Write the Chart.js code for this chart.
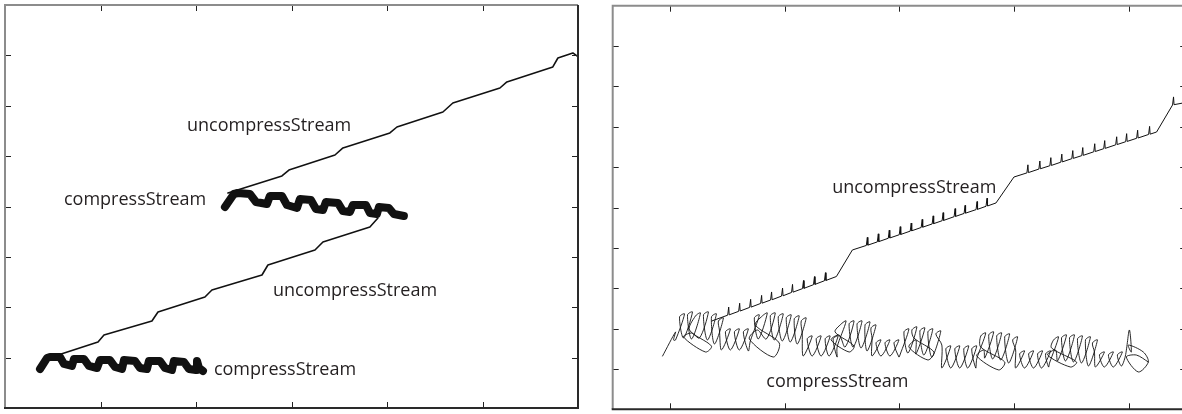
<!DOCTYPE html>
<html>
<head>
<meta charset="utf-8">
<script src="https://cdn.jsdelivr.net/npm/chart.js@4.4.1/dist/chart.umd.min.js"></script>
<style>
  html, body { margin: 0; padding: 0; background: #fff; overflow: hidden; }
  #wrap { position: relative; width: 1182px; height: 414px; overflow: hidden; }
  .panel { position: absolute; top: 0; }
  #left { left: 0; }
  #right { left: 600px; }
</style>
</head>
<body>
<div id="wrap">
  <canvas id="left" class="panel" width="590" height="414"></canvas>
  <canvas id="right" class="panel" width="600" height="414"></canvas>
</div>
<script>
// Left panel: two runs, each with a compress band and an uncompress staircase
const leftXTicks = [96, 192, 288, 384, 480];
const leftYTicks = [50, 100, 150, 200, 250, 300, 350];

const leftUncompUpper = [[224.1,213.4],[278.4,230.3],[285.4,236.2],[331.7,251.1],[339.7,258.1],[386.9,273.0],[394.0,278.9],[440.2,293.8],[450.2,302.7],[497.5,317.6],[504.5,323.6],[550.7,338.5],[555.8,347.4],[570.8,352.4],[574.9,349.4]];
const leftUncompLower = [[50.3,51.6],[93.5,65.5],[99.5,72.5],[147.7,86.4],[153.8,95.3],[201.0,110.2],[208.0,117.1],[258.3,132.0],[264.3,141.9],[311.6,156.8],[319.6,164.8],[366.8,179.7],[374.9,188.6]];
const leftCompUpper = [[221.1,199.5],[230.1,212.4],[234.2,213.4],[246.2,212.4],[252.3,204.5],[263.3,202.5],[266.3,210.4],[278.4,210.4],[283.4,201.5],[293.5,198.5],[296.5,207.5],[307.5,206.5],[312.6,197.5],[319.6,196.5],[322.6,204.5],[334.7,203.5],[339.7,195.5],[346.7,194.5],[349.7,201.5],[362.8,201.5],[366.8,193.6],[373.9,192.6],[375.9,199.5],[385.9,198.5],[390.9,192.6],[401.0,190.6]];
const leftCompLower = [[35.2,38.7],[42.2,49.6],[45.2,50.6],[55.3,50.6],[59.3,43.7],[67.3,41.7],[69.3,48.6],[79.4,48.6],[84.4,41.7],[92.5,39.7],[95.5,47.6],[105.5,47.6],[110.6,40.7],[117.6,38.7],[119.6,47.6],[130.7,46.7],[135.7,39.7],[142.7,38.7],[144.7,46.7],[155.8,46.7],[160.8,39.7],[167.8,37.7],[169.8,46.7],[179.9,45.7],[184.9,38.7],[192.0,37.7],[193.0,46.7],[195.0,39.7],[199.0,36.7]];

// Right panel: one run, zoomed in
const rightXTicks = [57.5, 172.5, 287.5, 402.5, 517.5];
const rightYTicks = [40, 80, 120, 160, 200, 240, 280, 320, 360];

const rightUncomp = [
  [99.3,87.5],
  [115.3,93.3],[116.3,101.3],[116.8,93.6],
  [126.3,97.1],[127.3,105.1],[127.8,97.4],
  [137.3,101.0],[138.3,109.0],[138.8,101.3],
  [148.3,104.9],[149.3,112.9],[149.8,105.2],
  [158.3,108.3],[159.3,116.3],[159.8,108.6],
  [169.3,112.2],[170.3,120.2],[170.8,112.5],
  [179.3,115.8],[180.3,123.8],[180.8,116.1],
  [190.3,119.6],[191.3,127.6],[191.8,119.9],
  [201.3,123.5],[202.3,131.5],[202.8,123.8],
  [212.3,127.4],[213.3,135.4],[213.8,127.7],
  [224.3,131.6],[240.3,157.9],
  [254.3,162.4],[255.3,170.4],[255.8,162.7],
  [265.3,165.9],[266.3,173.9],[266.8,166.2],
  [276.3,169.5],[277.3,177.5],[277.8,169.8],
  [287.3,173.0],[288.3,181.0],[288.8,173.3],
  [298.3,176.6],[299.3,184.6],[299.8,176.9],
  [309.3,180.2],[310.3,188.2],[310.8,180.5],
  [320.3,183.7],[321.3,191.7],[321.8,184.0],
  [330.3,186.9],[331.3,194.9],[331.8,187.2],
  [342.3,190.9],[343.3,198.9],[343.8,191.2],
  [352.3,194.1],[353.3,202.1],[353.8,194.4],
  [364.3,197.9],[365.3,205.9],[365.8,198.2],
  [374.3,201.2],[375.3,209.2],[375.8,201.5],
  [384.3,204.5],[402.3,230.2],
  [415.3,234.3],[416.3,242.3],[416.8,234.6],
  [427.3,238.1],[428.3,246.1],[428.8,238.4],
  [438.3,241.4],[439.3,249.4],[439.8,241.7],
  [449.3,244.9],[450.3,252.9],[450.8,245.2],
  [460.3,248.4],[461.3,256.4],[461.8,248.7],
  [470.3,251.4],[471.3,259.4],[471.8,251.7],
  [482.3,255.2],[483.3,263.2],[483.8,255.5],
  [492.3,258.3],[493.3,266.3],[493.8,258.6],
  [504.3,262.1],[505.3,270.1],[505.8,262.4],
  [514.3,265.2],[515.3,273.2],[515.8,265.5],
  [525.3,268.6],[526.3,276.6],[526.8,268.9],
  [537.3,272.4],[538.3,280.4],[538.8,272.7],
  [545.3,274.8],[561.3,301.6],[562.3,309.6],[562.8,301.9],[577.3,304.6]
];

const rightComp = [
  [50,52.8],[63,76.6],[61,68.7],
  [63,68.7],[72,94.5],[67,91.5],
  [71,70.7],[80,96.4],[75,93.5],
  [79,69.7],[88,95.4],[83,92.5],
  [77,78.6],[99,62.7],[93,56.8],[71,71.7],[79,75.6],
  [87,70.7],[96,96.4],[91,93.5],
  [95,68.7],[104,94.5],[99,91.5],
  [102,64.7],[111,90.5],[106,87.5],
  [107,78.6],
  [109,58.8],[118,79.6],[113,76.6],
  [118,58.8],[127,79.6],[122,76.6],
  [127,58.8],[136,79.6],[131,76.6],
  [136,57.8],
  [138,67.7],[147,93.5],[142,90.5],
  [146,69.7],[155,95.4],[150,92.5],
  [143,83.5],[167,65.7],[161,51.8],[137,69.7],[145,78.6],
  [154,69.7],[163,95.4],[158,92.5],
  [162,68.7],[171,94.5],[166,91.5],
  [170,67.7],[179,93.5],[174,90.5],
  [178,66.7],[187,92.5],[182,89.5],
  [185,64.7],[194,90.5],[189,87.5],
  [190,75.6],
  [191,52.8],[200,72.6],[195,69.7],
  [200,52.8],[209,72.6],[204,69.7],
  [209,52.8],[218,72.6],[213,69.7],
  [217,52.8],[226,72.6],[221,69.7],
  [225,51.8],
  [225,61.7],[234,87.5],[229,84.5],
  [223,76.6],[242,62.7],[237,56.8],[219,68.7],[227,73.6],
  [233,61.7],[242,87.5],[237,84.5],
  [241,61.7],[250,87.5],[245,84.5],
  [249,60.8],[258,86.5],[253,83.5],
  [255,57.8],[264,83.5],[259,80.6],
  [260,70.7],
  [260,52.8],[269,68.7],[264,65.7],
  [269,52.8],[278,68.7],[273,65.7],
  [278,52.8],[287,68.7],[282,65.7],
  [287,51.8],
  [288,53.8],[297,79.6],[292,76.6],
  [296,55.8],[305,81.6],[300,78.6],
  [302,70.7],[322,56.8],[316,48.9],[297,61.7],[304,68.7],
  [304,54.8],[313,80.6],[308,77.6],
  [312,53.8],[321,79.6],[316,76.6],
  [320,51.8],[329,77.6],[324,74.6],
  [330,63.7],
  [330,40.9],[339,62.7],[334,59.8],
  [339,40.9],[348,62.7],[343,59.8],
  [348,40.9],[357,62.7],[352,59.8],
  [356,40.9],[365,62.7],[360,59.8],
  [364,40.9],
  [365,49.9],[374,75.6],[369,72.6],
  [369,61.7],[393,46.9],[387,39.0],[365,52.8],[372,58.8],
  [373,50.8],[382,76.6],[377,73.6],
  [381,49.9],[390,75.6],[385,72.6],
  [389,48.9],[398,74.6],[393,71.7],
  [397,45.9],[406,71.7],[401,68.7],
  [404,58.8],
  [404,40.9],[413,57.8],[408,54.8],
  [413,40.9],[422,57.8],[417,54.8],
  [422,40.9],[431,57.8],[426,54.8],
  [430,40.9],[439,57.8],[434,54.8],
  [437,41.9],
  [438,45.9],[447,71.7],[442,68.7],
  [440,60.8],[465,46.9],[459,41.9],[436,53.8],[444,58.8],
  [446,47.9],[455,73.6],[450,70.7],
  [454,47.9],[463,73.6],[458,70.7],
  [462,46.9],[471,72.6],[466,69.7],
  [470,45.9],[479,71.7],[474,68.7],
  [477,42.9],[486,68.7],[481,65.7],
  [483,56.8],
  [484,41.9],[493,56.8],[488,53.8],
  [493,41.9],[502,56.8],[497,53.8],
  [502,41.9],[511,56.8],[506,53.8],
  [510,42.9],
  [514,52.8],[518,78.6],[520,56.8],[517,63.7],[532,56.8],[537,46.9],[527,37.0],[515,51.8],[525,53.8],[537,46.9]
];

// text labels, anchored in data units (left edge, baseline)
const leftLabels = [
  { text: 'uncompressStream', x: 182.9, y: 274.9 },
  { text: 'compressStream', x: 59.3, y: 201.5 },
  { text: 'uncompressStream', x: 269.3, y: 111.2 },
  { text: 'compressStream', x: 210.0, y: 32.8 }
];
const rightLabels = [
  { text: 'uncompressStream', x: 220, y: 214.4 },
  { text: 'compressStream', x: 154, y: 22.1 }
];

// frame with inward tick marks on all four sides, like the original plot
const frameTicks = {
  id: 'frameTicks',
  afterDraw(chart, args, opts) {
    const { ctx, chartArea: a, scales: { x, y } } = chart;
    ctx.save();
    ctx.strokeStyle = '#222';
    ctx.lineWidth = 1;
    ctx.beginPath();
    opts.xTicks.forEach(v => {
      const p = Math.round(x.getPixelForValue(v)) + 0.5;
      ctx.moveTo(p, a.bottom); ctx.lineTo(p, a.bottom - 6);
      ctx.moveTo(p, a.top); ctx.lineTo(p, a.top + 6);
    });
    opts.yTicks.forEach(v => {
      const p = Math.round(y.getPixelForValue(v)) + 0.5;
      ctx.moveTo(a.left, p); ctx.lineTo(a.left + 6, p);
      ctx.moveTo(a.right, p); ctx.lineTo(a.right - 6, p);
    });
    ctx.stroke();
    ctx.lineWidth = 2;
    ctx.strokeStyle = '#8c8c8c';
    ctx.beginPath();
    ctx.moveTo(a.left, a.bottom); ctx.lineTo(a.left, a.top); ctx.lineTo(a.right, a.top);
    ctx.stroke();
    ctx.strokeStyle = '#2a2a2a';
    ctx.beginPath();
    ctx.moveTo(a.left - 1, a.bottom); ctx.lineTo(a.right, a.bottom); ctx.lineTo(a.right, a.top);
    ctx.stroke();
    ctx.restore();
  }
};

const textLabels = {
  id: 'textLabels',
  afterDatasetsDraw(chart, args, opts) {
    const { ctx, scales: { x, y } } = chart;
    ctx.save();
    ctx.font = '18px "Open Sans"';
    ctx.fillStyle = '#231f20';
    ctx.textBaseline = 'alphabetic';
    ctx.textAlign = 'left';
    opts.items.forEach(l => ctx.fillText(l.text, x.getPixelForValue(l.x), y.getPixelForValue(l.y)));
    ctx.restore();
  }
};

function lineSet(data, width, tension) {
  return {
    data: data,
    borderColor: '#111',
    borderWidth: width,
    pointRadius: 0,
    tension: tension,
    borderJoinStyle: 'round',
    borderCapStyle: 'round',
    fill: false
  };
}

function makeChart(id, datasets, xMax, yMax, xTicks, yTicks, labels, padding) {
  return new Chart(document.getElementById(id), {
    type: 'line',
    data: { datasets: datasets },
    options: {
      responsive: false,
      animation: false,
      events: [],
      layout: { padding: padding },
      scales: {
        x: { type: 'linear', min: 0, max: xMax, display: false },
        y: { type: 'linear', min: 0, max: yMax, display: false }
      },
      plugins: {
        legend: { display: false },
        tooltip: { enabled: false },
        frameTicks: { xTicks: xTicks, yTicks: yTicks },
        textLabels: { items: labels }
      }
    },
    plugins: [frameTicks, textLabels]
  });
}

makeChart('left', [
  lineSet(leftUncompUpper, 1.6, 0),
  lineSet(leftUncompLower, 1.6, 0),
  lineSet(leftCompUpper, 8, 0),
  lineSet(leftCompLower, 8, 0)
], 576, 400, leftXTicks, leftYTicks, leftLabels, { left: 5, top: 5, right: 12, bottom: 6 });

makeChart('right', [
  lineSet(rightUncomp, 1, 0),
  lineSet(rightComp, 0.9, 0.3)
], 575, 400, rightXTicks, rightYTicks, rightLabels, { left: 12.7, top: 5.7, right: 13.8, bottom: 4.7 });
</script>
</body>
</html>
